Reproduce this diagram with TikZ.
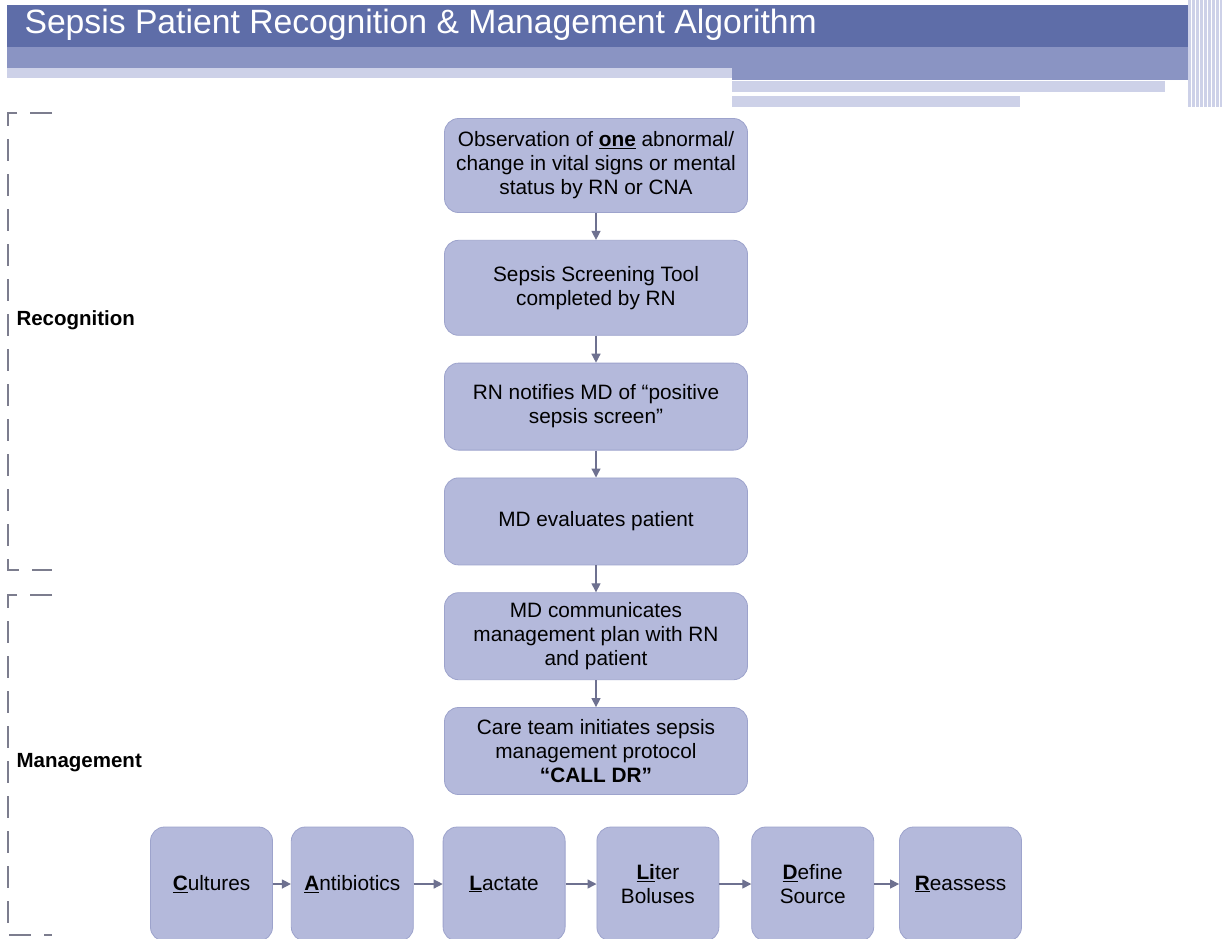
\documentclass[tikz,border=0pt]{standalone}
\usepackage{fontspec}
\setmainfont{Liberation Sans}
\usepackage{xcolor}
\usepackage{tikz}
\usetikzlibrary{arrows.meta, positioning}

\definecolor{bandDark}{HTML}{5E6DA8}
\definecolor{bandMid}{HTML}{8A94C3}
\definecolor{bandLight}{HTML}{CDD1E8}
\definecolor{boxFill}{HTML}{B4B9DB}
\definecolor{boxLine}{HTML}{9DA3CC}
\definecolor{arrowGrey}{HTML}{6E7190}
\definecolor{dashGrey}{HTML}{7C7D8E}

\newcommand\boxfont{\fontsize{20.8}{24}\selectfont}
\newcommand\titlefont{\fontsize{33.7}{38}\selectfont}
\newcommand\sidefont{\fontsize{20.5}{24}\selectfont\bfseries}

\begin{document}
\begin{tikzpicture}[
    x=1pt, y=-1pt,
    node distance=27pt,
    box/.style={draw=boxLine, fill=boxFill, rounded corners=14pt, line width=0.8pt, minimum width=303pt, minimum height=87pt, inner sep=0pt, align=center, font=\boxfont},
    smallbox/.style={box, minimum width=122pt, minimum height=114pt},
    arrow/.style={-{Triangle[length=9pt,width=9pt]}, line width=1.3pt, draw=arrowGrey},
    bracket/.style={draw=dashGrey, line width=2.5pt, dash pattern=on 22pt off 13pt},
    side/.style={anchor=west, font=\sidefont}
]
    \useasboundingbox (0,0) rectangle (1222,938);
    \clip (0,0) rectangle (1222,938);
    \fill[white] (0,0) rectangle (1222,938);

    % header bands
    \fill[bandDark] (7,5) rectangle (1188,47);
    \fill[bandMid] (7,47) rectangle (1188,68);
    \fill[bandMid] (732,68) rectangle (1188,80);
    \fill[bandLight] (7,68) rectangle (732,78);
    \fill[bandLight] (732,81) rectangle (1165,92);
    \fill[bandLight] (732,96) rectangle (1020,107);
    \fill[bandLight] (1188,0) rectangle (1222,107);
    \foreach \gx in {1191,1195,...,1219}
        \draw[white, line width=1pt] (\gx,0) -- (\gx,107);
    \node[anchor=west, text=white, font=\titlefont] (title) at (21,25) {Sepsis Patient Recognition \& Management Algorithm};

    % side brackets
    \draw[bracket] (52,113) -- (8,113) -- (8,570) -- (52,570);
    \draw[bracket] (52,595) -- (8,595) -- (8,935) -- (52,935);
    \node[side] (recog) at (13,320) {Recognition};
    \node[side] (manage) at (13,763) {Management};

    % main column
    \node[box, minimum height=94pt] (observe) at (596,165.5) {Observation of \underline{\textbf{one}} abnormal/\\change in vital signs or mental\\status by RN or CNA};
    \node[box, minimum height=95pt, below=of observe] (screen) {Sepsis Screening Tool\\completed by RN};
    \node[box, below=of screen] (notify) {RN notifies MD of “positive\\sepsis screen”};
    \node[box, below=of notify] (evaluate) {MD evaluates patient};
    \node[box, below=of evaluate] (plan) {MD communicates\\management plan with RN\\and patient};
    \node[box, below=of plan] (protocol) {Care team initiates sepsis\\management protocol\\\textbf{“CALL DR”}};

    \draw[arrow] (observe) -- (screen);
    \draw[arrow] (screen) -- (notify);
    \draw[arrow] (notify) -- (evaluate);
    \draw[arrow] (evaluate) -- (plan);
    \draw[arrow] (plan) -- (protocol);

    % CALL DR row
    \node[smallbox] (cultures) at (211.5,884) {\underline{\textbf{C}}ultures};
    \node[smallbox, right=18pt of cultures] (antibio) {\underline{\textbf{A}}ntibiotics};
    \node[smallbox, right=29pt of antibio] (lactate) {\underline{\textbf{L}}actate};
    \node[smallbox, right=31pt of lactate] (liter) {\underline{\textbf{Li}}ter\\Boluses};
    \node[smallbox, right=32pt of liter] (source) {\underline{\textbf{D}}efine\\Source};
    \node[smallbox, right=25pt of source] (reassess) {\underline{\textbf{R}}eassess};

    \draw[arrow] (cultures) -- (antibio);
    \draw[arrow] (antibio) -- (lactate);
    \draw[arrow] (lactate) -- (liter);
    \draw[arrow] (liter) -- (source);
    \draw[arrow] (source) -- (reassess);
\end{tikzpicture}
\end{document}
